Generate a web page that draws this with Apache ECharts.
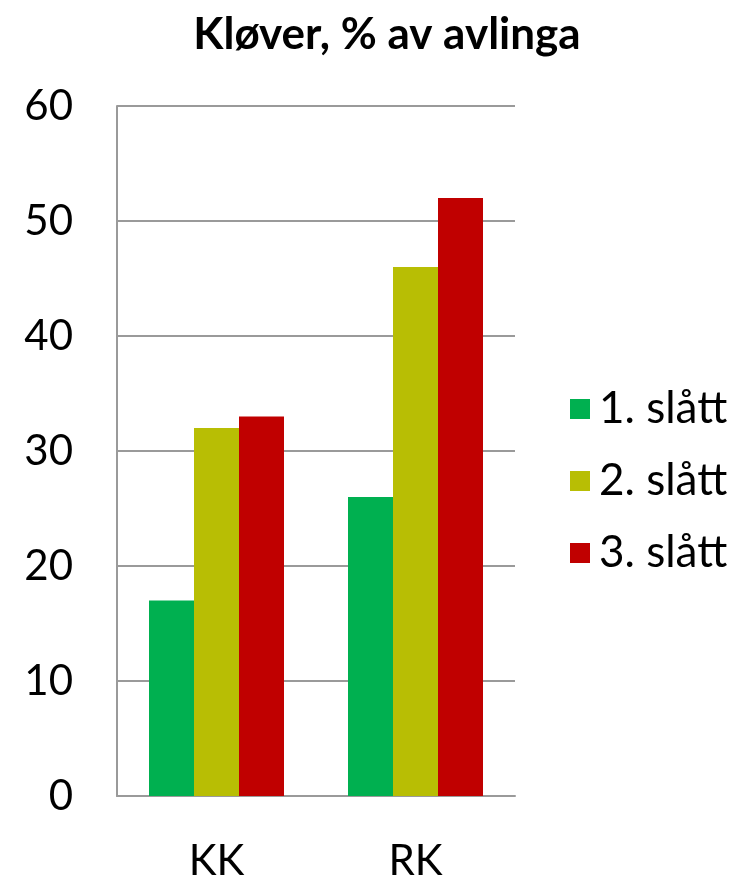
<!DOCTYPE html>
<html><head><meta charset="utf-8">
<script src="https://cdn.jsdelivr.net/npm/echarts@6/dist/echarts.min.js"></script>
<style>html,body{margin:0;padding:0;background:#fff}#c{width:743px;height:876px}</style>
</head><body><div id="c"></div>
<script>
const categories = ['KK', 'RK'];
const seriesNames = ['1. slått', '2. slått', '3. slått'];
const slatt1 = [17, 26];
const slatt2 = [32, 46];
const slatt3 = [33, 52];
const colors = ['#00B050', '#B8BE04', '#C00000'];
const font = 'Lato, "Open Sans", sans-serif';
const chart = echarts.init(document.getElementById('c'));
const data = [slatt1, slatt2, slatt3];
chart.setOption({
  animation: false,
  title: { text: 'Kløver, % av avlinga', left: 382, textAlign: 'center', top: 8,
    textStyle: { fontFamily: font, fontSize: 44, fontWeight: 'bold', color: '#000' } },
  legend: { orient: 'vertical', left: 565, top: 382, itemWidth: 20, itemHeight: 20, itemGap: 28,
    icon: 'rect', textStyle: { fontFamily: font, fontSize: 44, color: '#000', padding: [0,0,0,4] },
    data: seriesNames },
  grid: { left: 117, right: 228, top: 106, bottom: 80, containLabel: false, outerBoundsMode: 'none' },
  xAxis: { type: 'category', data: categories,
    axisLine: { lineStyle: { color: '#9A9A9A', width: 2 } }, axisTick: { show: false },
    axisLabel: { fontFamily: font, fontSize: 42, color: '#000', margin: 44 } },
  yAxis: { type: 'value', min: 0, max: 60, interval: 10,
    axisLine: { show: true, lineStyle: { color: '#9A9A9A', width: 2 } }, axisTick: { show: false },
    splitLine: { lineStyle: { color: '#9A9A9A', width: 2 } },
    axisLabel: { fontFamily: font, fontSize: 42, color: '#000', margin: 44 } },
  series: seriesNames.map((n, i) => ({ name: n, type: 'bar', data: data[i], barWidth: 45, barGap: '0%',
    itemStyle: { color: colors[i] } }))
});
</script></body></html>
